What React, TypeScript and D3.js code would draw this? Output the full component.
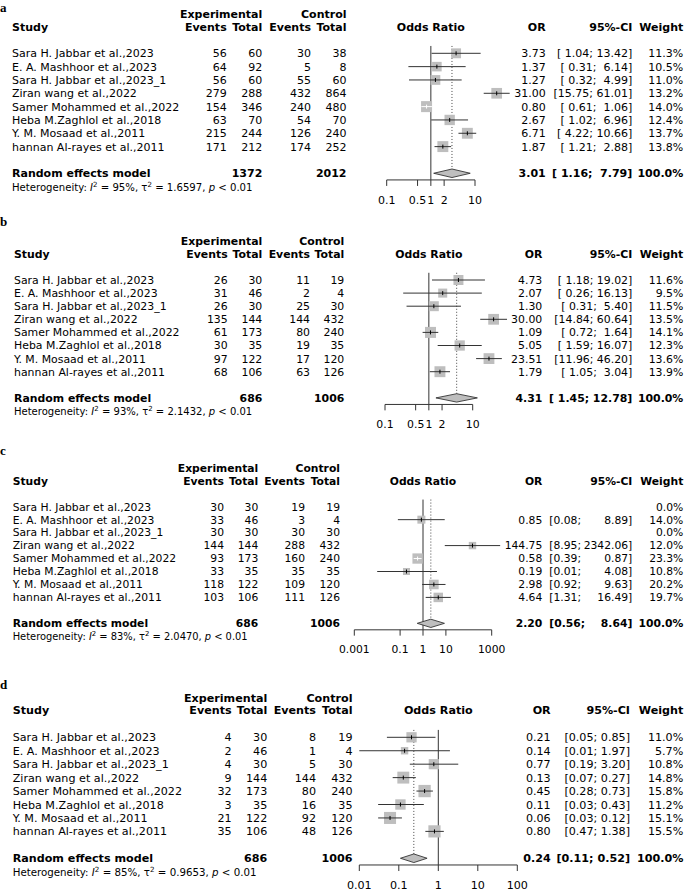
import React from 'react';
import * as d3 from 'd3';

// ---------- data ----------
const studies = [
  'Sara H. Jabbar et al.,2023',
  'E. A. Mashhoor et al.,2023',
  'Sara H. Jabbar et al.,2023_1',
  'Ziran wang et al.,2022',
  'Samer Mohammed et al.,2022',
  'Heba M.Zaghlol et al.,2018',
  'Y. M. Mosaad et al.,2011',
  'hannan Al-rayes et al.,2011',
];

const panelLetters = ['a', 'b', 'c', 'd'];

// panel a
const aExpEvents = [56, 64, 56, 279, 154, 63, 215, 171];
const aExpTotal = [60, 92, 60, 288, 346, 70, 244, 212];
const aCtrlEvents = [30, 5, 55, 432, 240, 54, 126, 174];
const aCtrlTotal = [38, 8, 60, 864, 480, 70, 240, 252];
const aOR = [3.73, 1.37, 1.27, 31.0, 0.8, 2.67, 6.71, 1.87];
const aLower = [1.04, 0.31, 0.32, 15.75, 0.61, 1.02, 4.22, 1.21];
const aUpper = [13.42, 6.14, 4.99, 61.01, 1.06, 6.96, 10.66, 2.88];
const aWeight = [11.3, 10.5, 11.0, 13.2, 14.0, 12.4, 13.7, 13.8];
const aPooled = [3.01, 1.16, 7.79];
const aTotals = [1372, 2012];
const aHet = ['95%', '1.6597', '0.01'];

// panel b
const bExpEvents = [26, 31, 26, 135, 61, 30, 97, 68];
const bExpTotal = [30, 46, 30, 144, 173, 35, 122, 106];
const bCtrlEvents = [11, 2, 25, 144, 80, 19, 17, 63];
const bCtrlTotal = [19, 4, 30, 432, 240, 35, 120, 126];
const bOR = [4.73, 2.07, 1.3, 30.0, 1.09, 5.05, 23.51, 1.79];
const bLower = [1.18, 0.26, 0.31, 14.84, 0.72, 1.59, 11.96, 1.05];
const bUpper = [19.02, 16.13, 5.4, 60.64, 1.64, 16.07, 46.2, 3.04];
const bWeight = [11.6, 9.5, 11.5, 13.5, 14.1, 12.3, 13.6, 13.9];
const bPooled = [4.31, 1.45, 12.78];
const bTotals = [686, 1006];
const bHet = ['93%', '2.1432', '0.01'];

// panel c
const cExpEvents = [30, 33, 30, 144, 93, 33, 118, 103];
const cExpTotal = [30, 46, 30, 144, 173, 35, 122, 106];
const cCtrlEvents = [19, 3, 30, 288, 160, 35, 109, 111];
const cCtrlTotal = [19, 4, 30, 432, 240, 35, 120, 126];
const cOR = [null, 0.85, null, 144.75, 0.58, 0.19, 2.98, 4.64];
const cLower = [null, 0.08, null, 8.95, 0.39, 0.01, 0.92, 1.31];
const cUpper = [null, 8.89, null, 2342.06, 0.87, 4.08, 9.63, 16.49];
const cWeight = [0.0, 14.0, 0.0, 12.0, 23.3, 10.8, 20.2, 19.7];
const cPooled = [2.2, 0.56, 8.64];
const cTotals = [686, 1006];
const cHet = ['83%', '2.0470', '0.01'];

// panel d
const dExpEvents = [4, 2, 4, 9, 32, 3, 21, 35];
const dExpTotal = [30, 46, 30, 144, 173, 35, 122, 106];
const dCtrlEvents = [8, 1, 5, 144, 80, 16, 92, 48];
const dCtrlTotal = [19, 4, 30, 432, 240, 35, 120, 126];
const dOR = [0.21, 0.14, 0.77, 0.13, 0.45, 0.11, 0.06, 0.8];
const dLower = [0.05, 0.01, 0.19, 0.07, 0.28, 0.03, 0.03, 0.47];
const dUpper = [0.85, 1.97, 3.2, 0.27, 0.73, 0.43, 0.12, 1.38];
const dWeight = [11.0, 5.7, 10.8, 14.8, 15.8, 11.2, 15.1, 15.5];
const dPooled = [0.24, 0.11, 0.52];
const dTotals = [686, 1006];
const dHet = ['85%', '0.9653', '0.01'];

const abTicks = [0.1, 0.5, 1, 2, 10];
const cTicks = [0.001, 0.1, 1, 10, 1000];
const dTicks = [0.01, 0.1, 1, 10, 100];

const panelData = [
  { expEvents: aExpEvents, expTotal: aExpTotal, ctrlEvents: aCtrlEvents, ctrlTotal: aCtrlTotal, or: aOR, lower: aLower, upper: aUpper, weight: aWeight, pooled: aPooled, totals: aTotals, het: aHet, ticks: abTicks },
  { expEvents: bExpEvents, expTotal: bExpTotal, ctrlEvents: bCtrlEvents, ctrlTotal: bCtrlTotal, or: bOR, lower: bLower, upper: bUpper, weight: bWeight, pooled: bPooled, totals: bTotals, het: bHet, ticks: abTicks },
  { expEvents: cExpEvents, expTotal: cExpTotal, ctrlEvents: cCtrlEvents, ctrlTotal: cCtrlTotal, or: cOR, lower: cLower, upper: cUpper, weight: cWeight, pooled: cPooled, totals: cTotals, het: cHet, ticks: cTicks },
  { expEvents: dExpEvents, expTotal: dExpTotal, ctrlEvents: dCtrlEvents, ctrlTotal: dCtrlTotal, or: dOR, lower: dLower, upper: dUpper, weight: dWeight, pooled: dPooled, totals: dTotals, het: dHet, ticks: dTicks },
];

// ---------- layout (per panel) ----------
const layouts = [
  { row0: 53.3, h: 13.33, fs: 11, xStudy: 12, xEE: 226.7, xET: 262.3, xCE: 311, xCT: 346.5, range: [386.7, 475], xOR: 545.7, xCI: 632.3, ciSplit: false, xCIL: 0, xW: 683.3, sqMax: 11, letterY: 12 },
  { row0: 280, h: 13.1, fs: 10.9, xStudy: 14, xEE: 227.7, xET: 262.3, xCE: 310, xCT: 344.3, range: [385, 472.7], xOR: 542.3, xCI: 632.3, ciSplit: false, xCIL: 0, xW: 683.3, sqMax: 11, letterY: 226 },
  { row0: 506.7, h: 12.96, fs: 10.75, xStudy: 12.7, xEE: 224, xET: 258.3, xCE: 305, xCT: 340, range: [354.3, 491.7], xOR: 542.3, xCI: 632.3, ciSplit: true, xCIL: 549.3, xW: 683.3, sqMax: 10.3, letterY: 455 },
  { row0: 737.3, h: 13.44, fs: 11.15, xStudy: 12.7, xEE: 231.7, xET: 267.3, xCE: 316, xCT: 352.5, range: [359.3, 517.3], xOR: 550.7, xCI: 630, ciSplit: false, xCIL: 0, xW: 683.3, sqMax: 12.3, letterY: 689 },
];

const FONT = "'DejaVu Sans', Verdana, sans-serif";
const LINE = '#333';
const SQ = '#bebebe';

function Panel({ d, L, letter }: any) {
  const { h, row0, fs } = L;
  const x = d3.scaleLog().domain([d.ticks[0], d.ticks[d.ticks.length - 1]]).range(L.range);
  const center = (L.range[0] + L.range[1]) / 2;
  const f2 = d3.format('.2f');
  const f1 = d3.format('.1f');
  const yRow = (i: number) => row0 + i * h;
  const dy = '0.36em';

  const lowS = [...d.lower, d.pooled[1]].map((v: any) => (v == null ? '' : f2(v)));
  const upS = [...d.upper, d.pooled[2]].map((v: any) => (v == null ? '' : f2(v)));
  const lw = d3.max(lowS, (s: string) => s.length) as number;
  const uw = d3.max(upS, (s: string) => s.length) as number;

  const wMax = d3.max(d.weight) as number;
  const axisY = row0 + 9.5 * h;
  const nullTop = row0 - 0.55 * h;
  const randY = yRow(9);
  const diamH = 0.32 * h;
  const hetY = row0 + 10.03 * h;
  const tickLabY = row0 + 11 * h;
  const h1 = row0 - 2.95 * h;
  const h2 = row0 - 2 * h;
  const hfs = fs * 0.92;

  const ciText = (i: number, y: number, bold: boolean, key: string) => {
    if (!lowS[i]) return null;
    const fw = bold ? 'bold' : 'normal';
    if (L.ciSplit) {
      return (
        <g key={key}>
          <text x={L.xCIL} y={y} dy={dy} fontWeight={fw}>{`[${lowS[i]};`}</text>
          <text x={L.xCI} y={y} dy={dy} textAnchor="end" fontWeight={fw}>{`${upS[i]}]`}</text>
        </g>
      );
    }
    const s = `[${lowS[i].padStart(lw, ' ')}; ${upS[i].padStart(uw, ' ')}]`;
    return (
      <text key={key} x={L.xCI} y={y} dy={dy} textAnchor="end" fontWeight={fw} xmlSpace="preserve" style={{ whiteSpace: 'pre' }}>{s}</text>
    );
  };

  return (
    <g fontFamily={FONT} fontSize={fs} fill="#000">
      <text x={0} y={L.letterY} fontFamily="'Liberation Serif', 'Times New Roman', serif" fontWeight="bold" fontSize={13}>{letter}</text>

      {/* headers */}
      <g fontWeight="bold">
        <text x={L.xET} y={h1} dy={dy} textAnchor="end">Experimental</text>
        <text x={L.xCT} y={h1} dy={dy} textAnchor="end">Control</text>
        <text x={L.xStudy} y={h2} dy={dy}>Study</text>
        <text x={L.xEE} y={h2} dy={dy} textAnchor="end">Events</text>
        <text x={L.xET} y={h2} dy={dy} textAnchor="end">Total</text>
        <text x={L.xCE} y={h2} dy={dy} textAnchor="end">Events</text>
        <text x={L.xCT} y={h2} dy={dy} textAnchor="end">Total</text>
        <text x={center} y={h2} dy={dy} textAnchor="middle">Odds Ratio</text>
        <text x={L.xOR} y={h2} dy={dy} textAnchor="end">OR</text>
        <text x={L.xCI} y={h2} dy={dy} textAnchor="end">95%-CI</text>
        <text x={L.xW} y={h2} dy={dy} textAnchor="end">Weight</text>
      </g>

      {/* study rows */}
      {studies.map((s, i) => {
        const y = yRow(i);
        return (
          <g key={i}>
            <text x={L.xStudy} y={y} dy={dy}>{s}</text>
            <text x={L.xEE} y={y} dy={dy} textAnchor="end">{d.expEvents[i]}</text>
            <text x={L.xET} y={y} dy={dy} textAnchor="end">{d.expTotal[i]}</text>
            <text x={L.xCE} y={y} dy={dy} textAnchor="end">{d.ctrlEvents[i]}</text>
            <text x={L.xCT} y={y} dy={dy} textAnchor="end">{d.ctrlTotal[i]}</text>
            {d.or[i] != null && <text x={L.xOR} y={y} dy={dy} textAnchor="end">{f2(d.or[i])}</text>}
            {ciText(i, y, false, 'ci' + i)}
            <text x={L.xW} y={y} dy={dy} textAnchor="end">{f1(d.weight[i]) + '%'}</text>
          </g>
        );
      })}

      {/* random effects row */}
      <g fontWeight="bold">
        <text x={L.xStudy} y={randY} dy={dy}>Random effects model</text>
        <text x={L.xET} y={randY} dy={dy} textAnchor="end">{d.totals[0]}</text>
        <text x={L.xCT} y={randY} dy={dy} textAnchor="end">{d.totals[1]}</text>
        <text x={L.xOR} y={randY} dy={dy} textAnchor="end">{f2(d.pooled[0])}</text>
        <text x={L.xW} y={randY} dy={dy} textAnchor="end">100.0%</text>
      </g>
      {ciText(studies.length, randY, true, 'cir')}

      {/* heterogeneity */}
      <text x={L.xStudy} y={hetY} dy={dy} fontSize={hfs}>
        <tspan>Heterogeneity: </tspan>
        <tspan fontStyle="italic">I</tspan>
        <tspan fontSize={hfs * 0.7} dy={-hfs * 0.38}>2</tspan>
        <tspan dy={hfs * 0.38}>{` = ${d.het[0]}, \u03c4`}</tspan>
        <tspan fontSize={hfs * 0.7} dy={-hfs * 0.38}>2</tspan>
        <tspan dy={hfs * 0.38}>{` = ${d.het[1]}, `}</tspan>
        <tspan fontStyle="italic">p</tspan>
        <tspan>{` < ${d.het[2]}`}</tspan>
      </text>

      {/* plot: null line & pooled dotted line */}
      <line x1={x(1)} x2={x(1)} y1={nullTop} y2={axisY} stroke={LINE} strokeWidth={1} />
      <line x1={x(d.pooled[0])} x2={x(d.pooled[0])} y1={nullTop} y2={randY - diamH} stroke={LINE} strokeWidth={0.9} strokeDasharray="1,2" />

      {/* studies */}
      {studies.map((s, i) => {
        if (d.or[i] == null) return null;
        const y = yRow(i);
        const cx = x(d.or[i]);
        const side = L.sqMax * Math.sqrt(d.weight[i] / wMax);
        const x1 = x(d.lower[i]);
        const x2 = x(d.upper[i]);
        const inside = x1 >= cx - side / 2 && x2 <= cx + side / 2;
        const col = inside ? '#fff' : LINE;
        return (
          <g key={'m' + i}>
            <rect x={cx - side / 2} y={y - side / 2} width={side} height={side} fill={SQ} />
            <line x1={x1} x2={x2} y1={y} y2={y} stroke={col} strokeWidth={1} />
            <line x1={cx} x2={cx} y1={y - 2} y2={y + 2} stroke={inside ? '#fff' : '#000'} strokeWidth={1} />
          </g>
        );
      })}

      {/* diamond */}
      <polygon
        points={[
          [x(d.pooled[1]), randY],
          [x(d.pooled[0]), randY - diamH],
          [x(d.pooled[2]), randY],
          [x(d.pooled[0]), randY + diamH],
        ].map((p) => p.join(',')).join(' ')}
        fill={SQ}
        stroke={LINE}
        strokeWidth={0.9}
      />

      {/* axis */}
      <line x1={L.range[0]} x2={L.range[1]} y1={axisY} y2={axisY} stroke={LINE} strokeWidth={1} />
      {d.ticks.map((t: number) => (
        <g key={'t' + t}>
          <line x1={x(t)} x2={x(t)} y1={axisY} y2={axisY + 0.45 * h} stroke={LINE} strokeWidth={1} />
          <text x={x(t)} y={tickLabY} dy={dy} textAnchor="middle">{String(t)}</text>
        </g>
      ))}
    </g>
  );
}

export default function App() {
  return (
    <svg width={685} height={893} style={{ position: 'absolute', left: 0, top: 0, background: '#fff' }}>
      <rect width={685} height={893} fill="#fff" />
      {panelData.map((d, i) => (
        <Panel key={i} d={d} L={layouts[i]} letter={panelLetters[i]} />
      ))}
    </svg>
  );
}
